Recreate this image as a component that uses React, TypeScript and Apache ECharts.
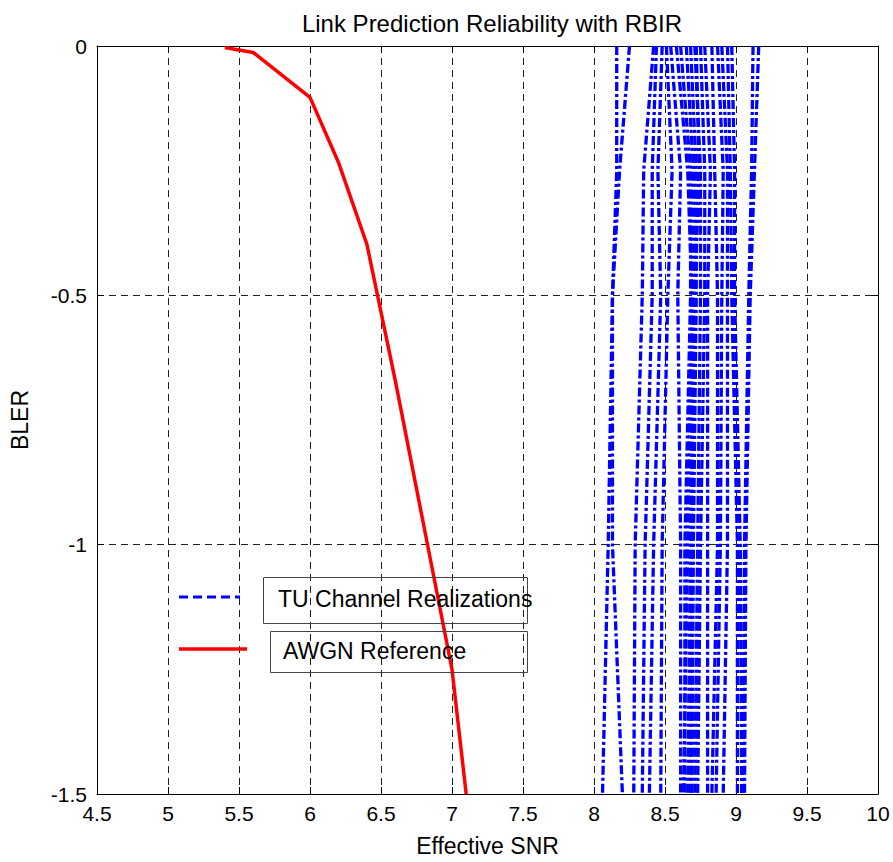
import React, { useEffect, useRef } from "react";
import * as echarts from "echarts";

const titleText = "Link Prediction Reliability with RBIR";
const xName = "Effective SNR";
const yName = "BLER";
const legendNames = ["TU Channel Realizations", "AWGN Reference"];

const awgnSNR = [5.4, 5.6, 6.0, 6.2, 6.4, 6.6, 6.8, 7.0, 7.1];
const awgnBLER = [-0.003, -0.013, -0.103, -0.233, -0.397, -0.67, -0.96, -1.25, -1.5];

// BLER levels shared by every TU realization, and the SNR of each realization at those levels
const tuBLER = [0, -0.25, -0.5, -1.0, -1.5];
const tuRealizations: number[][] = [
  [8.16, 8.16, 8.13, 8.10, 8.06],
  [8.25, 8.18, 8.13, 8.13, 8.20],
  [8.42, 8.35, 8.34, 8.29, 8.28],
  [8.44, 8.41, 8.41, 8.36, 8.34],
  [8.48, 8.45, 8.47, 8.42, 8.39],
  [8.51, 8.55, 8.52, 8.48, 8.47],
  [8.54, 8.61, 8.59, 8.61, 8.61],
  [8.58, 8.66, 8.69, 8.66, 8.63],
  [8.61, 8.68, 8.68, 8.64, 8.64],
  [8.65, 8.70, 8.70, 8.68, 8.66],
  [8.68, 8.72, 8.72, 8.70, 8.69],
  [8.71, 8.75, 8.75, 8.73, 8.71],
  [8.72, 8.74, 8.71, 8.69, 8.68],
  [8.75, 8.78, 8.78, 8.75, 8.73],
  [8.78, 8.82, 8.80, 8.80, 8.80],
  [8.83, 8.85, 8.87, 8.87, 8.83],
  [8.87, 8.91, 8.90, 8.89, 8.86],
  [8.90, 8.94, 8.94, 8.94, 8.91],
  [8.94, 8.96, 8.97, 9.01, 9.01],
  [8.97, 8.99, 8.99, 9.03, 9.04],
  [9.12, 9.11, 9.09, 9.06, 9.05],
  [9.16, 9.13, 9.10, 9.07, 9.06],
];

const X_MIN = 4.5, X_MAX = 10, X_INT = 0.5;
const Y_MIN = -1.5, Y_MAX = 0, Y_INT = 0.5;

const FONT = "Liberation Sans, Arial, Helvetica, sans-serif";

export default function App() {
  const ref = useRef<HTMLDivElement>(null);
  useEffect(() => {
    document.body.style.margin = "0";
    const chart = echarts.init(ref.current!, undefined, { renderer: "svg" });
    const gridLine = { show: true, lineStyle: { color: "#222", width: 1, type: [7, 5] as any } };
    const tuSeries = tuRealizations.map((xs) => ({
      type: "line",
      name: legendNames[0],
      data: xs.map((x, j) => [x, tuBLER[j]]),
      showSymbol: false,
      symbol: "none",
      silent: true,
      lineStyle: { color: "#0000ff", width: 3.3, type: [9, 3, 3, 3] as any },
      z: 3,
    }));
    const option: any = {
      animation: false,
      backgroundColor: "#fff",
      textStyle: { fontFamily: FONT },
      title: {
        text: titleText,
        left: 487,
        textAlign: "center",
        top: 6,
        textStyle: { fontFamily: FONT, fontSize: 24, fontWeight: "normal", color: "#000" },
      },
      grid: { left: 97, right: 15, top: 46, bottom: 62, containLabel: false },
      xAxis: [
        {
          type: "value",
          min: X_MIN,
          max: X_MAX,
          interval: X_INT,
          name: xName,
          nameLocation: "middle",
          nameGap: 40,
          nameTextStyle: { fontFamily: FONT, fontSize: 23, color: "#000" },
          axisLine: { show: true, onZero: false, lineStyle: { color: "#000", width: 1 } },
          axisTick: { show: true, inside: true, length: 7, lineStyle: { color: "#000" } },
          axisLabel: { fontFamily: FONT, fontSize: 21, color: "#000", margin: 9 },
          splitLine: gridLine,
        },
        {
          type: "value",
          position: "top",
          min: X_MIN,
          max: X_MAX,
          interval: X_INT,
          axisLine: { show: true, onZero: false, lineStyle: { color: "#000", width: 1 } },
          axisTick: { show: true, inside: true, length: 7, lineStyle: { color: "#000" } },
          axisLabel: { show: false },
          splitLine: { show: false },
        },
      ],
      yAxis: [
        {
          type: "value",
          min: Y_MIN,
          max: Y_MAX,
          interval: Y_INT,
          name: yName,
          nameLocation: "middle",
          nameGap: 66,
          nameTextStyle: { fontFamily: FONT, fontSize: 23, color: "#000" },
          axisLine: { show: true, onZero: false, lineStyle: { color: "#000", width: 1 } },
          axisTick: { show: true, inside: true, length: 7, lineStyle: { color: "#000" } },
          axisLabel: { fontFamily: FONT, fontSize: 21, color: "#000", margin: 10 },
          splitLine: gridLine,
        },
        {
          type: "value",
          position: "right",
          min: Y_MIN,
          max: Y_MAX,
          interval: Y_INT,
          axisLine: { show: true, onZero: false, lineStyle: { color: "#000", width: 1 } },
          axisTick: { show: true, inside: true, length: 7, lineStyle: { color: "#000" } },
          axisLabel: { show: false },
          splitLine: { show: false },
        },
      ],
      series: [
        ...tuSeries,
        {
          type: "line",
          name: legendNames[1],
          data: awgnSNR.map((x, i) => [x, awgnBLER[i]]),
          showSymbol: false,
          symbol: "none",
          silent: true,
          lineStyle: { color: "#ff0000", width: 3.5 },
          z: 4,
        },
      ],
      graphic: [
        {
          type: "line",
          shape: { x1: 179, y1: 597, x2: 240, y2: 597 },
          style: { stroke: "#0000ff", lineWidth: 3, lineDash: [9, 5] },
          z: 10,
        },
        {
          type: "line",
          shape: { x1: 179, y1: 649, x2: 247, y2: 649 },
          style: { stroke: "#ff0000", lineWidth: 3.5 },
          z: 10,
        },
        {
          type: "rect",
          shape: { x: 263.5, y: 577.5, width: 264, height: 46 },
          style: { fill: "none", stroke: "#444", lineWidth: 1 },
          z: 10,
        },
        {
          type: "rect",
          shape: { x: 270.5, y: 631.5, width: 257, height: 41 },
          style: { fill: "none", stroke: "#444", lineWidth: 1 },
          z: 10,
        },
        {
          type: "text",
          x: 278,
          y: 599,
          style: { text: legendNames[0], fill: "#000", font: `23px ${FONT}`, textVerticalAlign: "middle", verticalAlign: "middle" },
          z: 11,
        },
        {
          type: "text",
          x: 283,
          y: 651,
          style: { text: legendNames[1], fill: "#000", font: `23px ${FONT}`, textVerticalAlign: "middle", verticalAlign: "middle" },
          z: 11,
        },
      ],
    };
    chart.setOption(option);
    return () => chart.dispose();
  }, []);
  return <div ref={ref} style={{ width: 893, height: 862 }} />;
}
